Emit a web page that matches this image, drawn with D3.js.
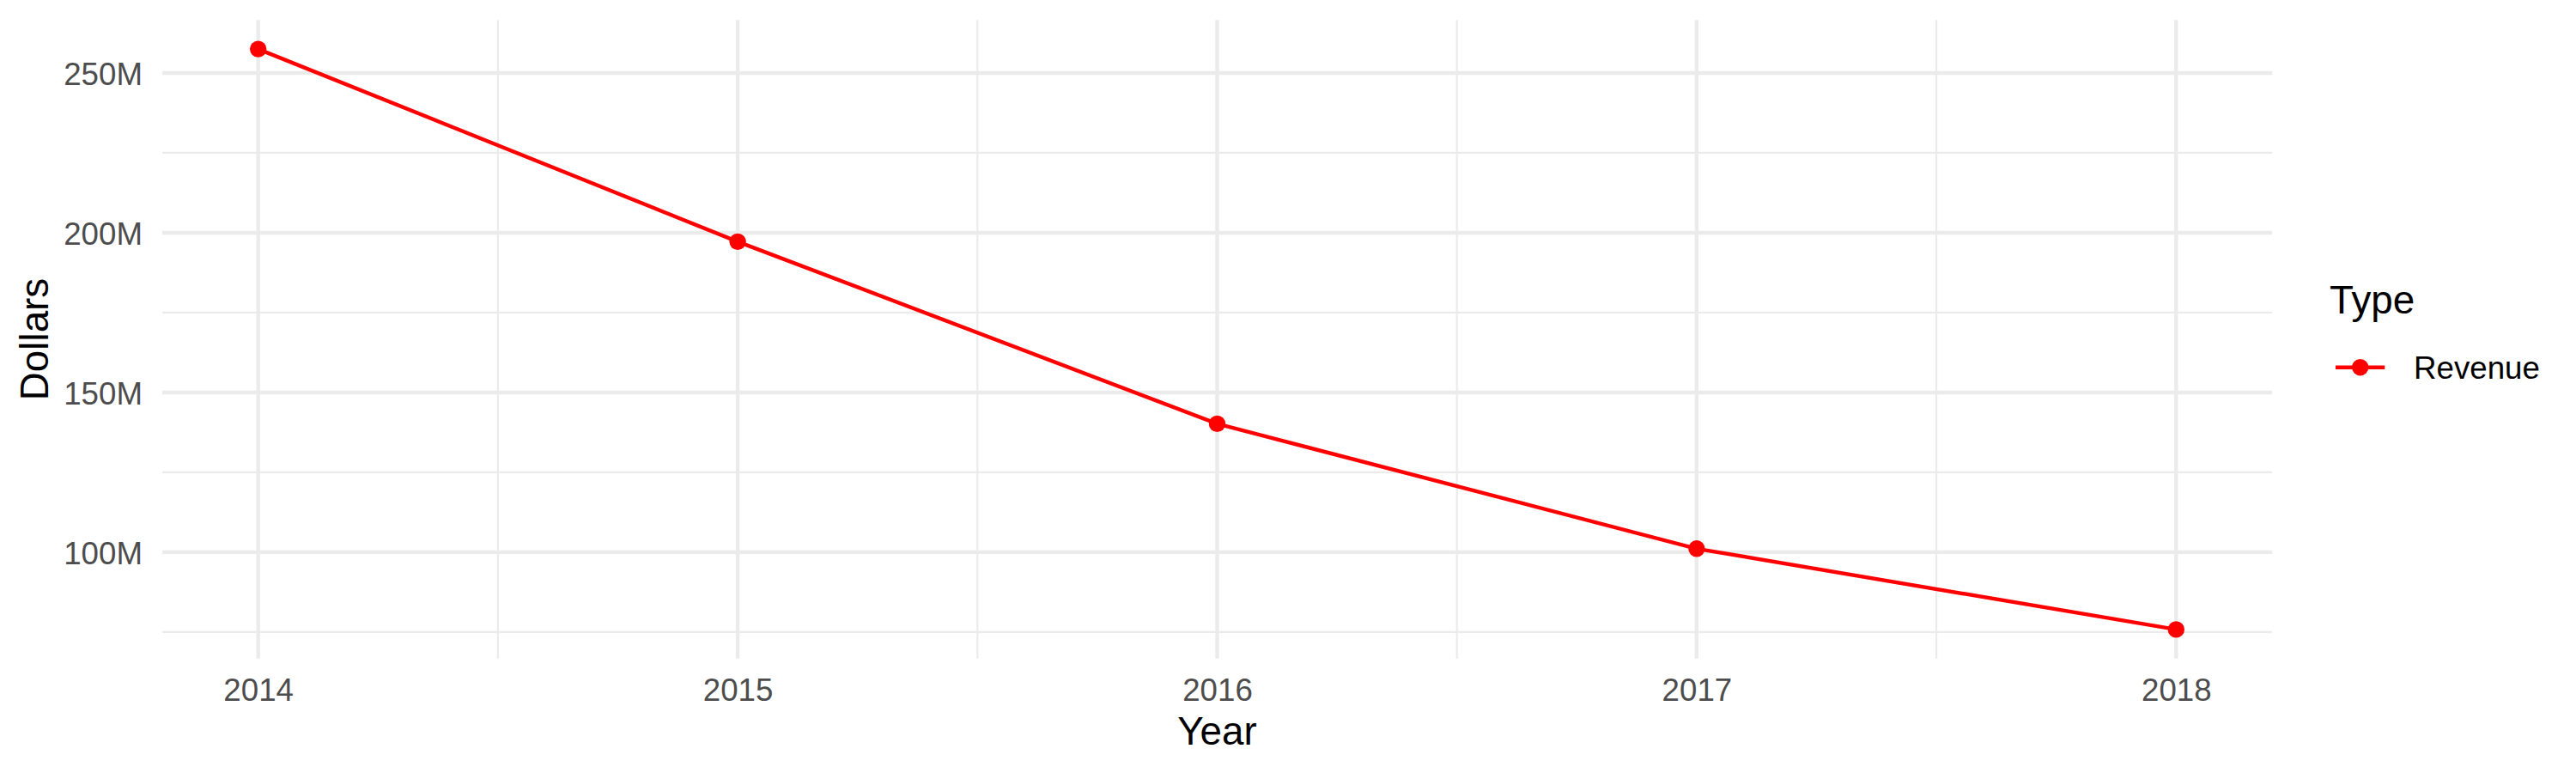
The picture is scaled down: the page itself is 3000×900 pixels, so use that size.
<!DOCTYPE html>
<html>
<head>
<meta charset="utf-8">
<script src="https://cdn.jsdelivr.net/npm/d3@7"></script>
<style>
  html, body { margin: 0; padding: 0; background: #fff; }
  svg { display: block; font-family: "Liberation Sans", Arial, Helvetica, sans-serif; }
</style>
</head>
<body>
<svg id="chart" width="3000" height="900"></svg>
<script>
// ---- data ----
const years = [2014, 2015, 2016, 2017, 2018];
const revenue = [257.5e6, 197.2e6, 140.2e6, 101.1e6, 75.8e6];
const seriesName = "Revenue";
const yTicks = [100e6, 150e6, 200e6, 250e6];
const yMinorTicks = [75e6, 125e6, 175e6, 225e6];
const xTicks = [2014, 2015, 2016, 2017, 2018];
const xMinorTicks = [2014.5, 2015.5, 2016.5, 2017.5];

const data = years.map((y, i) => ({ year: y, value: revenue[i] }));

// ---- layout ----
const W = 3000, H = 900;
const panel = { left: 189, right: 2646, top: 23.3, bottom: 766.7 };
const svg = d3.select("#chart");

const xMin = d3.min(years), xMax = d3.max(years);
const xPad = (xMax - xMin) * 0.05;
const x = d3.scaleLinear().domain([xMin - xPad, xMax + xPad]).range([panel.left, panel.right]);

const vMin = d3.min(revenue), vMax = d3.max(revenue);
const vPad = (vMax - vMin) * 0.05;
const y = d3.scaleLinear().domain([vMin - vPad, vMax + vPad]).range([panel.bottom, panel.top]);

const grid = svg.append("g");
// minor grid
grid.selectAll(".hmin").data(yMinorTicks).join("line")
  .attr("x1", panel.left).attr("x2", panel.right)
  .attr("y1", d => y(d)).attr("y2", d => y(d))
  .attr("stroke", "#EBEBEB").attr("stroke-width", 2.2);
grid.selectAll(".vmin").data(xMinorTicks).join("line")
  .attr("y1", panel.top).attr("y2", panel.bottom)
  .attr("x1", d => x(d)).attr("x2", d => x(d))
  .attr("stroke", "#EBEBEB").attr("stroke-width", 2.2);
// major grid
grid.selectAll(".hmaj").data(yTicks).join("line")
  .attr("x1", panel.left).attr("x2", panel.right)
  .attr("y1", d => y(d)).attr("y2", d => y(d))
  .attr("stroke", "#EBEBEB").attr("stroke-width", 4.4);
grid.selectAll(".vmaj").data(xTicks).join("line")
  .attr("y1", panel.top).attr("y2", panel.bottom)
  .attr("x1", d => x(d)).attr("x2", d => x(d))
  .attr("stroke", "#EBEBEB").attr("stroke-width", 4.4);

// axes (text only, via d3 axis generators)
const fmt = d => (d / 1e6) + "M";
const yAxis = svg.append("g").attr("transform", `translate(${panel.left},0)`)
  .call(d3.axisLeft(y).tickValues(yTicks).tickFormat(fmt).tickSize(0).tickPadding(23));
yAxis.select(".domain").remove();
yAxis.selectAll("text")
  .attr("font-size", 36.7).attr("fill", "#4D4D4D")
  .attr("font-family", "Liberation Sans, Arial, sans-serif")
  .attr("dy", "0.36em");

const xAxis = svg.append("g").attr("transform", `translate(0,${panel.bottom})`)
  .call(d3.axisBottom(x).tickValues(xTicks).tickFormat(d3.format("d")).tickSize(0).tickPadding(0));
xAxis.select(".domain").remove();
xAxis.selectAll("text")
  .attr("font-size", 36.7).attr("fill", "#4D4D4D")
  .attr("font-family", "Liberation Sans, Arial, sans-serif")
  .attr("dy", null).attr("y", 49.3);

// axis titles
svg.append("text")
  .attr("x", (panel.left + panel.right) / 2).attr("y", 866.7)
  .attr("text-anchor", "middle").attr("font-size", 45.8).attr("fill", "#000")
  .text("Year");
svg.append("text")
  .attr("transform", `translate(56,${(panel.top + panel.bottom) / 2}) rotate(-90)`)
  .attr("text-anchor", "middle").attr("font-size", 45.8).attr("fill", "#000")
  .text("Dollars");

// line + points
const line = d3.line().x(d => x(d.year)).y(d => y(d.value));
svg.append("path").datum(data)
  .attr("d", line).attr("fill", "none")
  .attr("stroke", "#FF0000").attr("stroke-width", 4.4);
svg.selectAll(".pt").data(data).join("circle")
  .attr("cx", d => x(d.year)).attr("cy", d => y(d.value))
  .attr("r", 9.7).attr("fill", "#FF0000");

// legend
const lg = svg.append("g");
lg.append("text").attr("x", 2713).attr("y", 365)
  .attr("font-size", 45.8).attr("fill", "#000").text("Type");
lg.append("line").attr("x1", 2720).attr("x2", 2777.3).attr("y1", 427.7).attr("y2", 427.7)
  .attr("stroke", "#FF0000").attr("stroke-width", 4.4);
lg.append("circle").attr("cx", 2748.7).attr("cy", 427.7).attr("r", 9.7).attr("fill", "#FF0000");
lg.append("text").attr("x", 2811).attr("y", 441)
  .attr("font-size", 36.7).attr("fill", "#000").text(seriesName);
</script>
</body>
</html>
